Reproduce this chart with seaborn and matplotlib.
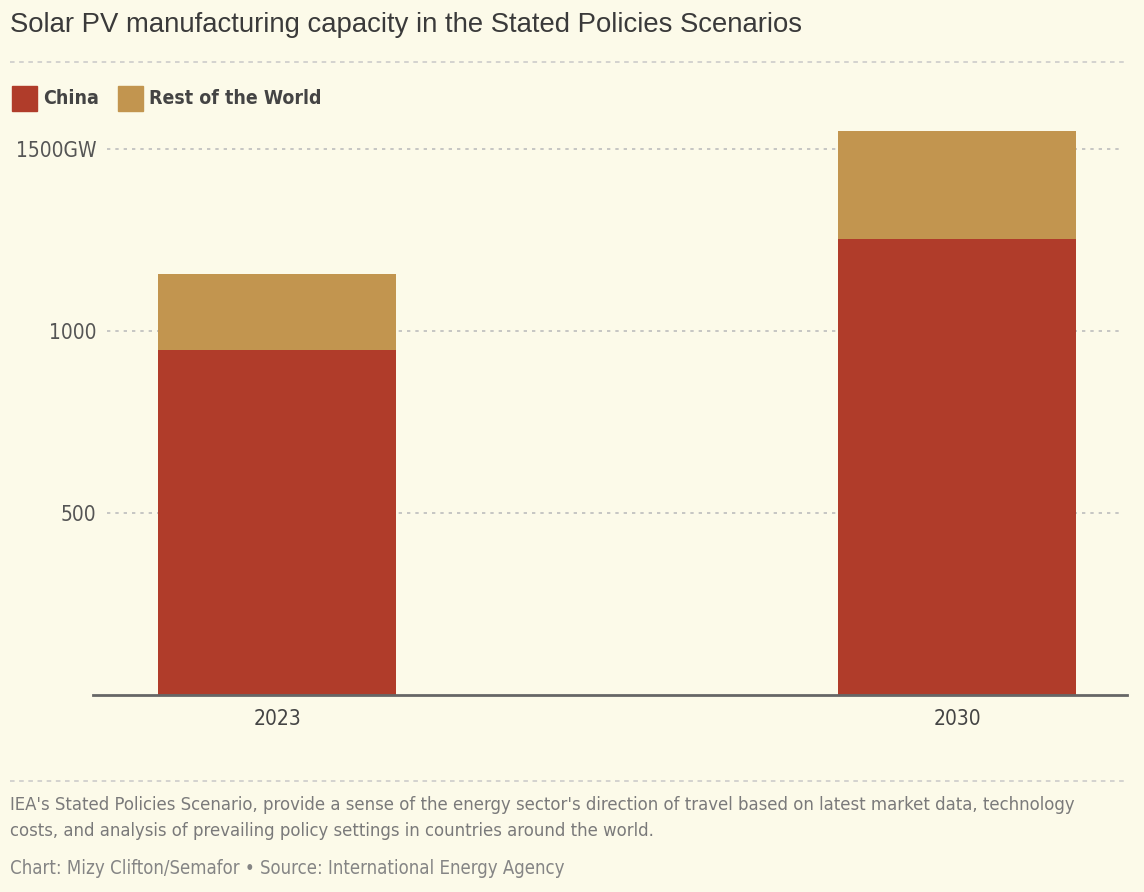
import matplotlib
matplotlib.use("Agg")
import matplotlib.pyplot as plt
import matplotlib.lines as mlines
import matplotlib.patches as mpatches
from matplotlib import font_manager
import seaborn as sns
import pandas as pd

years = ["2023", "2030"]
china = [948, 1253]
rest_of_world = [209, 296]
yticks = [500, 1000, 1500]
ytick_labels = ["500", "1000", "1500GW"]

bg = "#fcfae9"
red = "#b03c2a"
tan = "#c2954f"

sns.set_theme(style="white")

# look for a narrow face, the original uses a condensed sans
narrow = dict(family=["Roboto", "DejaVu Sans"])
path = font_manager.findfont(font_manager.FontProperties(family="DejaVu Sans", stretch="condensed"))
if "Condensed" in path:
    narrow = dict(family=["DejaVu Sans"], fontstretch="condensed")
plt.rcParams["font.family"] = narrow["family"]
if "fontstretch" in narrow:
    plt.rcParams["font.stretch"] = "condensed"

df = pd.DataFrame({"year": years, "china": china, "row": rest_of_world})
df["total"] = df["china"] + df["row"]

W, H = 1144, 892
fig = plt.figure(figsize=(W / 100, H / 100), dpi=100, facecolor=bg)
ax = fig.add_axes([93 / W, 1 - 695 / H, (1127 - 93) / W, 582.4 / H], facecolor=bg)
renderer = fig.canvas.get_renderer()


def fit(t, width_px):
    # scale font so the text spans the width seen in the original
    w = t.get_window_extent(renderer).width
    t.set_fontsize(t.get_fontsize() * width_px / w)
    return t


for y in yticks:
    ax.axhline(y, xmin=14 / 1034, xmax=0.996, color="#bdbdbd", lw=1.2,
               ls=(0, (2, 3)), zorder=0)

sns.barplot(data=df, x="year", y="total", color=tan, width=0.35,
            saturation=1, linewidth=0, ax=ax, zorder=2)
sns.barplot(data=df, x="year", y="china", color=red, width=0.35,
            saturation=1, linewidth=0, ax=ax, zorder=3)

ax.set_xlim(-0.2706, 1.25)
ax.set_ylim(0, 1600)
ax.set_yticks(yticks)
ax.set_yticklabels(ytick_labels)
ax.set_xlabel("")
ax.set_ylabel("")
for s in ["top", "right", "left"]:
    ax.spines[s].set_visible(False)
ax.spines["bottom"].set_color("#666666")
ax.spines["bottom"].set_linewidth(2)
ax.spines["bottom"].set_zorder(4)

probe = fig.text(0, 0, "1500GW", fontsize=15)
fit(probe, 81)
tick_fs = probe.get_fontsize()
probe.remove()
ax.tick_params(axis="y", length=0, pad=-2.5, labelsize=tick_fs, labelcolor="#555555")
ax.tick_params(axis="x", length=0, pad=10, labelsize=tick_fs, labelcolor="#444444")

# title
t = fig.text(10 / W, 1 - 25 / H, "Solar PV manufacturing capacity in the Stated Policies Scenarios",
             family=["Liberation Sans", "DejaVu Sans"], fontstretch="normal", fontsize=18,
             color="#3a3a3a", ha="left", va="center")
fit(t, 793)

# separators
for ypx in [62, 781]:
    fig.add_artist(mlines.Line2D([10 / W, 1128 / W], [1 - ypx / H] * 2, color="#c8c8c8",
                                 lw=1.1, ls=(0, (3, 3))))

# legend
for x0, col, lab, wpx in [(12, red, "China", 56), (118, tan, "Rest of the World", 172)]:
    fig.add_artist(mpatches.Rectangle((x0 / W, 1 - 111 / H), 25 / W, 25 / H,
                                      color=col, transform=fig.transFigure))
    t = fig.text((x0 + 31) / W, 1 - 98 / H, lab, fontsize=15, fontweight="bold",
                 color="#444444", ha="left", va="center")
    fit(t, wpx)

# footer
note1 = "IEA's Stated Policies Scenario, provide a sense of the energy sector's direction of travel based on latest market data, technology"
note2 = "costs, and analysis of prevailing policy settings in countries around the world."
credit = "Chart: Mizy Clifton/Semafor \u2022 Source: International Energy Agency"
t1 = fig.text(10 / W, 1 - 805 / H, note1, fontsize=13, color="#7a7a7a", ha="left", va="center")
fit(t1, 1063)
fig.text(10 / W, 1 - 831 / H, note2, fontsize=t1.get_fontsize(), color="#7a7a7a",
         ha="left", va="center")
t3 = fig.text(10 / W, 1 - 868 / H, credit, fontsize=13, color="#858585", ha="left", va="center")
fit(t3, 555)

fig.savefig("out.png", dpi=100, facecolor=bg)
